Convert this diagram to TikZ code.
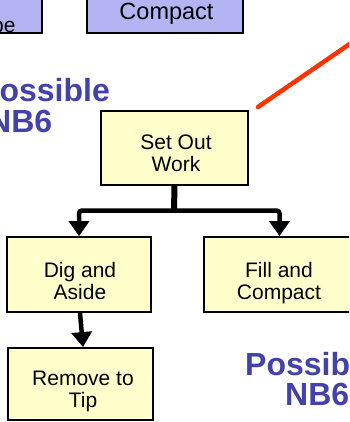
\documentclass[tikz,border=0pt]{standalone}
\usepackage{fontspec}
\setmainfont{Liberation Sans}
\usetikzlibrary{arrows.meta}
\definecolor{ycol}{RGB}{255,255,204}
\definecolor{pcol}{RGB}{180,180,242}
\definecolor{bcol}{RGB}{66,66,170}
\definecolor{rcol}{RGB}{255,51,0}
\tikzset{
  ybox/.style={draw=black, line width=1.8pt, fill=ycol, inner sep=0pt},
  pbox/.style={draw=black, line width=1.8pt, fill=pcol, inner sep=0pt},
  btxt/.style={font=\fontsize{21}{22}\selectfont, align=center, inner sep=0pt, text depth=0pt},
  bigtxt/.style={font=\fontsize{32}{30}\selectfont\bfseries, text=bcol, inner sep=0pt, anchor=base west},
  conn/.style={draw=black, line width=4.5pt, rounded corners=3pt, -{Triangle[width=20pt,length=15pt]}},
  stem/.style={draw=black, line width=6pt},
  redline/.style={draw=rcol, line width=4.5pt, line cap=round}
}
\begin{document}
\begin{tikzpicture}[x=1pt,y=-1pt]
\useasboundingbox (0,0) rectangle (349,422);
\clip (0,0) rectangle (349,422);
% purple boxes at top
\node[pbox, minimum width=102pt, minimum height=63pt] (pur1) at (-9,1.5) {};
\begin{scope}
  \clip (-60,-30) rectangle (41,32);
  \node[font=\fontsize{21}{22}\selectfont, inner sep=0pt, anchor=base west] (pur1t) at (-8,33) {pe};
\end{scope}
\node[pbox, minimum width=156pt, minimum height=63pt] (pur2) at (165,1.5) {};
\node[font=\fontsize{23.5}{24}\selectfont, inner sep=0pt, text depth=0pt] (pur2t) at (166.5,11) {Compact};
% yellow boxes
\node[ybox, minimum width=147pt, minimum height=74pt] (sow) at (174.5,148) {};
\node[btxt] (sowt) at (176,153.3) {Set Out\\Work};
\node[ybox, minimum width=144pt, minimum height=75pt] (dig) at (79,274.5) {};
\node[btxt] (digt) at (80,280.5) {Dig and\\Aside};
\node[ybox, minimum width=151pt, minimum height=75pt] (fill) at (279.5,274.5) {};
\node[btxt] (fillt) at (279,280.5) {Fill and\\Compact};
\node[ybox, minimum width=145pt, minimum height=72pt] (rem) at (80.5,384) {};
\node[btxt] (remt) at (83,389.5) {Remove to\\Tip};
% connectors
\coordinate (j) at (174,210.5);
\draw[stem] (sow.south) -- (j);
\draw[conn] ([xshift=2pt]j) -| (dig.north);
\draw[conn] ([xshift=-2pt]j) -| (fill.north);
\draw[conn, rounded corners=0pt] ([xshift=1pt]dig.south) -- ([xshift=2.5pt]rem.north);
% red line
\coordinate (r1) at (258,107);
\coordinate (r2) at (362,35.5);
\draw[redline] (r1) -- (r2);
% blue labels
\node[bigtxt] (pos1a) at (-22,102) {Possible};
\node[bigtxt] (pos1b) at (-12,132) {NB6};
\node[bigtxt] (pos2a) at (245,375.5) {Possible};
\node[bigtxt] (pos2b) at (285,405) {NB6};
\end{tikzpicture}
\end{document}
